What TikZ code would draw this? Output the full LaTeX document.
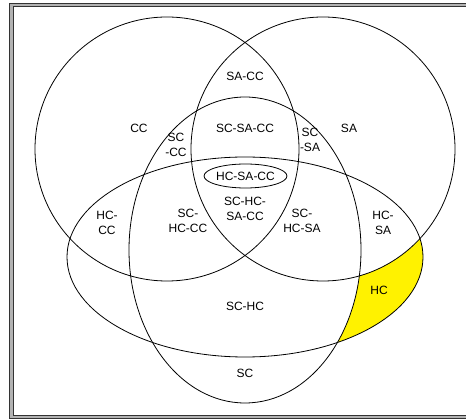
\documentclass[tikz,border=0pt]{standalone}
\usepackage{fontspec}
\setmainfont{Liberation Sans}
\usetikzlibrary{shapes.geometric}
\begin{document}
\begin{tikzpicture}[x=1pt,y=-1pt,
  setline/.style={line width=0.8pt, draw=black},
  lbl/.style={font=\fontsize{12}{14.5}\selectfont, align=center, inner sep=0pt, text=black}]
\useasboundingbox (0,0) rectangle (466,419);
\fill[white] (0,0) rectangle (466,419);

% double frame
\draw[line width=1pt, black!80, double=black!30, double distance=2.5pt]
  (11.25,5.25) rectangle (490,417.15);

% named centres of the four sets
\coordinate (cc) at (167,149);
\coordinate (sa) at (323,149);
\coordinate (sc) at (245,250);
\coordinate (hc) at (245,257);

% highlighted region: HC only (right part)
\begin{scope}
  \clip (245,0) rectangle (466,419);
  \fill[yellow] (hc) ellipse [x radius=178pt, y radius=100pt];
\end{scope}
\fill[white] (sa) circle [radius=132pt];
\fill[white] (sc) ellipse [x radius=116pt, y radius=153pt];

% set outlines
\draw[setline] (cc) circle [radius=132pt];
\draw[setline] (sa) circle [radius=132pt];
\draw[setline] (sc) ellipse [x radius=116pt, y radius=153pt];
\draw[setline] (hc) ellipse [x radius=178pt, y radius=100pt];

% region labels
\node[lbl] (lSACC)   at (245,76)  {SA-CC};
\node[lbl] (lCC)     at (139,128) {CC};
\node[lbl] (lSCSACC) at (245,128) {SC-SA-CC};
\node[lbl] (lSA)     at (349,128) {SA};
\node[lbl] (lSCCC)   at (176,145) {SC\\-CC};
\node[lbl] (lSCSA)   at (310,140) {SC\\-SA};
\node[lbl, draw, line width=0.8pt, ellipse, minimum width=80pt, minimum height=24pt]
  (lHCSACC) at (245.5,176) {HC-SA-CC};
\node[lbl] (lALL)    at (245,209) {SC-HC-\\SA-CC};
\node[lbl] (lSCHCCC) at (188,221) {SC-\\HC-CC};
\node[lbl] (lSCHCSA) at (302,221) {SC-\\HC-SA};
\node[lbl] (lHCCC)   at (107,223) {HC-\\CC};
\node[lbl] (lHCSA)   at (383,223) {HC-\\SA};
\node[lbl] (lHC)     at (379,290) {HC};
\node[lbl] (lSCHC)   at (245,306) {SC-HC};
\node[lbl] (lSC)     at (245,373) {SC};
\end{tikzpicture}
\end{document}
